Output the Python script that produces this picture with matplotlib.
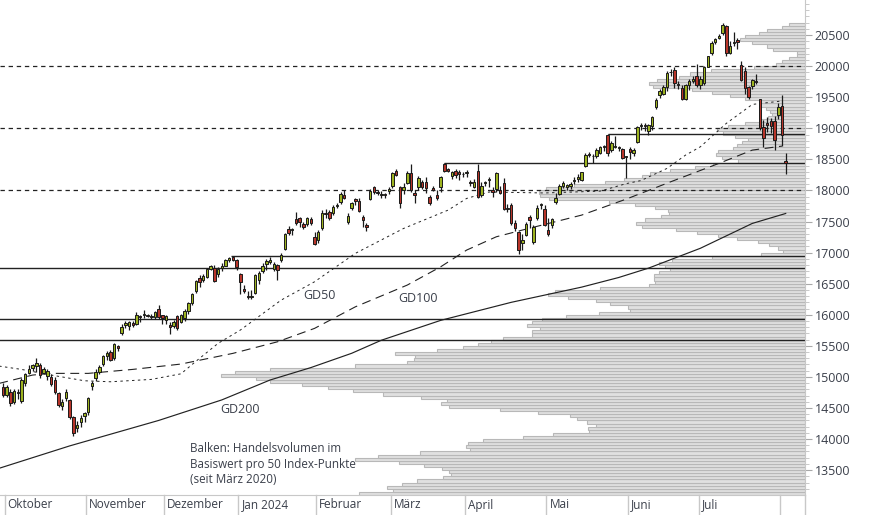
import numpy as np
import matplotlib.pyplot as plt
from matplotlib.transforms import blended_transform_factory

plt.rcParams['font.family'] = ['Open Sans', 'DejaVu Sans']

# Handelstage: Index 0 = 2. Oktober 2023, Index -1 = 29. September 2023
tage = np.arange(-1, 211)
monat_start = [0, 22, 43, 63, 84, 104, 124, 146, 168, 187, 209]
monat_namen = ['Oktober', 'November', 'Dezember', 'Jan 2024', 'Februar', 'März',
               'April', 'Mai', 'Juni', 'Juli', '']

# Kerzen (Sep 29 .. Aug 2), je Monat eine Zeile
kurs_open = [14840,
    14715, 14760, 14590, 14760, 14620, 14900, 15060, 15140, 15170, 15190, 15060, 15010, 15000, 14950, 14740, 14540, 14660, 14625, 14350, 14180, 14270, 14370,
    14430, 14850, 14980, 15080, 15200, 15330, 15400, 15300, 15500, 15700, 15830, 15820, 15870, 15850, 15980, 15990, 15990, 15970, 15970, 16090, 15990,
    15910, 15830, 15820, 15980, 15880, 15950, 16060, 16190, 16380, 16590, 16560, 16605, 16740, 16750, 16650, 16750, 16790, 16880, 16935, 16880,
    16655, 16420, 16300, 16290, 16350, 16560, 16700, 16820, 16850, 16740, 16800, 16880, 17060, 17380, 17360, 17540, 17560, 17460, 17460, 17540, 17250,
    17200, 17395, 17640, 17650, 17640, 17750, 17810, 17920, 17490, 17716, 17860, 17830, 17570, 17440, 17860, 18060, 17970, 17930, 17940, 17990,
    18070, 18310, 18050, 18000, 18120, 18280, 17960, 18050, 18130, 18130, 17900, 18040, 17930, 18050, 18420, 18340, 18240, 18320, 18300, 18270,
    18280, 18135, 18060, 18320, 17920, 18120, 18170, 18010, 18020, 18010, 18120, 17720, 17765, 17475, 17330, 17150, 17280, 17570, 17170, 17555, 17760, 17700,
    17360, 17450, 17810, 17950, 18080, 18060, 18080, 18160, 18190, 18165, 18400, 18590, 18560, 18550, 18600, 18700, 18890, 18650, 18700, 18700, 18660, 18540,
    18670, 18600, 18780, 19040, 19050, 18950, 19030, 19340, 19540, 19560, 19670, 19900, 19940, 19720, 19650, 19480, 19700, 19760, 19840,
    19700, 19730, 19990, 20210, 20390, 20460, 20530, 20645, 20220, 20380, 20420, 20015, 19920, 19660, 19680, 19760, 19470, 19020, 19090, 19110, 19115, 19210,
    19360, 18480]
kurs_close = [14715,
    14830, 14580, 14780, 14740, 14950, 15050, 15120, 15190, 15220, 15030, 15130, 15100, 14885, 14755, 14545, 14600, 14760, 14350, 14095, 14230, 14340, 14420,
    14660, 14900, 15080, 15160, 15330, 15380, 15280, 15530, 15470, 15810, 15860, 15880, 15840, 16000, 15960, 16010, 15985, 15980, 16040, 15960, 15950,
    15980, 15810, 15880, 15780, 15990, 16060, 16190, 16330, 16540, 16530, 16620, 16735, 16790, 16540, 16740, 16780, 16880, 16910, 16880, 16770,
    16530, 16380, 16280, 16300, 16640, 16680, 16790, 16860, 16880, 16810, 16720, 16960, 17300, 17310, 17380, 17475, 17500, 17420, 17555, 17470, 17140,
    17330, 17640, 17630, 17555, 17730, 17770, 17940, 17880, 17590, 17800, 17830, 17670, 17520, 17410, 17990, 17970, 17960, 17950, 17920, 18020,
    18280, 18250, 17800, 18050, 18280, 18000, 17920, 18200, 18060, 18040, 17800, 18010, 17880, 18215, 18310, 18320, 18290, 18250, 18270, 18260,
    18290, 18115, 18130, 17900, 18080, 18130, 18180, 17980, 18280, 17960, 17700, 17710, 17475, 17390, 17040, 17210, 17460, 17520, 17410, 17720, 17780, 17440,
    17300, 17540, 17880, 18080, 18120, 18090, 18110, 18160, 18220, 18290, 18570, 18570, 18550, 18650, 18700, 18710, 18600, 18760, 18710, 18680, 18520, 18540,
    18620, 18650, 19020, 19050, 19040, 19050, 19180, 19455, 19600, 19660, 19890, 19910, 19730, 19700, 19470, 19700, 19760, 19800, 19700,
    19800, 19985, 20160, 20370, 20430, 20480, 20660, 20210, 20320, 20390, 20390, 19775, 19650, 19500, 19770, 19740, 19000, 18840, 19060, 19040, 18810, 19340,
    18890, 18450]
kurs_high = [14900,
    14870, 14800, 14800, 14800, 14990, 15070, 15190, 15210, 15300, 15220, 15160, 15130, 15050, 15000, 14760, 14650, 14800, 14640, 14370, 14290, 14380, 14440,
    14680, 14930, 15120, 15190, 15360, 15420, 15440, 15550, 15520, 15850, 15900, 15900, 15900, 16040, 16000, 16070, 16020, 16010, 16060, 16150, 16000,
    16000, 15880, 15920, 16000, 16020, 16100, 16200, 16350, 16560, 16640, 16650, 16750, 16800, 16800, 16770, 16840, 16900, 16930, 16945, 16900,
    16680, 16480, 16390, 16400, 16660, 16700, 16830, 16900, 16930, 16850, 16810, 16990, 17320, 17430, 17400, 17660, 17580, 17500, 17580, 17580, 17330,
    17360, 17690, 17700, 17680, 17760, 17800, 17980, 18000, 17640, 17820, 17880, 17880, 17600, 17470, 18030, 18080, 18000, 17990, 17960, 18060,
    18300, 18340, 18080, 18120, 18320, 18420, 18000, 18230, 18170, 18220, 17920, 18080, 18000, 18230, 18440, 18360, 18310, 18340, 18330, 18300,
    18330, 18170, 18180, 18420, 18130, 18160, 18210, 18050, 18300, 18080, 18200, 17780, 17800, 17520, 17350, 17300, 17500, 17600, 17440, 17770, 17800, 17760,
    17560, 17560, 17960, 18100, 18150, 18110, 18130, 18220, 18260, 18300, 18600, 18620, 18580, 18690, 18720, 18730, 18905, 18800, 18870, 18720, 18690, 18560,
    18700, 18690, 19040, 19080, 19080, 19070, 19200, 19490, 19630, 19700, 19930, 19950, 19980, 19760, 19700, 19710, 19800, 19840, 20030,
    19850, 20000, 20170, 20400, 20450, 20520, 20690, 20660, 20400, 20550, 20450, 20080, 19980, 19680, 19800, 19870, 19480, 19130, 19180, 19160, 19200, 19400,
    19540, 18600]
kurs_low = [14680,
    14680, 14540, 14570, 14650, 14580, 14850, 15040, 15100, 15080, 14990, 15040, 14950, 14860, 14720, 14520, 14470, 14620, 14330, 14050, 14120, 14200, 14280,
    14390, 14790, 14940, 15040, 15170, 15280, 15260, 15270, 15420, 15680, 15780, 15760, 15800, 15830, 15880, 15950, 15960, 15940, 15930, 15940, 15850,
    15850, 15690, 15780, 15760, 15860, 15900, 16020, 16150, 16350, 16450, 16530, 16590, 16720, 16530, 16600, 16700, 16780, 16850, 16860, 16720,
    16330, 16350, 16260, 16250, 16330, 16500, 16680, 16720, 16820, 16700, 16560, 16850, 17040, 17290, 17290, 17450, 17420, 17380, 17430, 17440, 17130,
    17150, 17360, 17560, 17530, 17610, 17720, 17790, 17860, 17460, 17690, 17770, 17650, 17420, 17350, 17840, 17940, 17930, 17880, 17880, 17950,
    18040, 18230, 17720, 17940, 18100, 17980, 17800, 18000, 18030, 17960, 17760, 17990, 17850, 17980, 18290, 18290, 18180, 18200, 18170, 18220,
    18220, 18080, 18040, 17880, 17900, 18080, 18050, 17900, 17970, 17940, 17680, 17650, 17450, 17350, 16970, 17040, 17260, 17400, 17140, 17530, 17700, 17430,
    17260, 17400, 17790, 17930, 18040, 18000, 18030, 18100, 18140, 18150, 18380, 18540, 18450, 18530, 18580, 18640, 18560, 18620, 18690, 18640, 18500, 18200,
    18500, 18560, 18760, 18980, 18960, 18900, 18970, 19310, 19490, 19530, 19600, 19850, 19650, 19640, 19460, 19450, 19620, 19730, 19670,
    19630, 19700, 19980, 20180, 20350, 20430, 20500, 20170, 20190, 20320, 20280, 19760, 19560, 19470, 19630, 19720, 18980, 18700, 18940, 18920, 18650, 19150,
    18720, 18270]

gd50_tage = [-2, 4, 12, 21, 28, 39, 47, 51, 57, 63, 74, 83, 94, 107, 119, 124, 130, 145, 160, 167, 171, 178, 183, 187, 194, 201, 209]
gd50_werte = [15174, 15121, 15030, 14938, 14922, 14960, 15050, 15250, 15540, 15754, 16236, 16531, 16988, 17389, 17684, 17872, 17975,
              17960, 17990, 18110, 18160, 18355, 18569, 18703, 19080, 19385, 19440]
gd100_tage = [-2, 7, 12, 22, 34, 47, 61, 73, 83, 94, 108, 117, 124, 132, 139, 155, 167, 179, 192, 201, 209]
gd100_werte = [14896, 15030, 15057, 15057, 15121, 15207, 15379, 15565, 15781, 16128, 16478, 16772, 17041, 17255, 17363, 17604,
               17861, 18140, 18436, 18650, 18714]
gd200_tage = [-2, 17, 41, 58, 71, 82, 93, 101, 109, 117, 136, 155, 165, 173, 187, 201, 210]
gd200_werte = [13530, 13890, 14300, 14630, 14950, 15150, 15380, 15590, 15750, 15910, 16200, 16445, 16600, 16750, 17070, 17470, 17630]

# Handelsvolumen pro 50 Index-Punkte, ab 13100 aufwärts (relative Einheiten)
volumen = [446, 412, 418, 403, 388, 362, 354, 356, 363, 381,
           406, 450, 427, 385, 335, 339, 337, 322, 282, 252,
           216, 217, 209, 218, 228, 235, 267, 305, 356, 364,
           358, 384, 422, 452, 477, 503, 535, 549, 584, 570,
           535, 450, 398, 391, 390, 410, 368, 342, 327, 314,
           302, 273, 273, 265, 278, 273, 263, 239, 206, 175,
           177, 195, 209, 237, 257, 250, 205, 156, 150, 151,
           151, 146, 135, 140, 146, 133, 93, 44, 22, 27,
           36, 47, 68, 87, 108, 129, 163, 169, 160, 144,
           136, 137, 150, 170, 196, 256, 265, 266, 259, 231,
           200, 181, 163, 155, 135, 110, 92, 67, 83, 89,
           87, 72, 68, 63, 57, 70, 82, 88, 77, 60,
           45, 37, 33, 35, 39, 45, 45, 60, 75, 93,
           113, 152, 156, 148, 126, 115, 94, 51, 29, 23,
           16, 8, 8, 32, 38, 53, 65, 60, 46, 38, 23, 16]
volumen_unten = 13100

# Marken (Linien)
linien_gepunktet = [20000, 19000, 18000]
linien_voll = [16758, 15924, 15597]
linien_ab_tag = [(16945, 60.5), (18440, 118), (18905, 162)]

# =================================================================
x_min, x_max = -1.78, 215.2
y_min, y_max = 13100, 21065
textfarbe = '#3a3f4a'

fig = plt.figure(figsize=(8.74, 5.15), dpi=100)
ax = fig.add_axes([0, 20 / 515, 805 / 874, 495 / 515])

# Volumenprofil
vol = np.array(volumen)
stufen = volumen_unten + 50 * np.arange(len(vol))
px_pro_tag = 3.71
breite = vol / px_pro_tag
ax.barh(stufen + 25, breite, left=x_max - breite, height=50, color='#e0e0e0',
        edgecolor='#b8b8b8', linewidth=0.8, zorder=1)

# horizontale Linien
for y in linien_gepunktet:
    ax.axhline(y, color='#222222', lw=0.9, linestyle=(0, (3.5, 3)), zorder=2)
for y in linien_voll:
    ax.axhline(y, color='#222222', lw=1.0, zorder=2)
for y, tag in linien_ab_tag:
    ax.hlines(y, tag, x_max, color='#222222', lw=1.0, zorder=2)

# gleitende Durchschnitte
ax.plot(gd50_tage, gd50_werte, color='#222222', lw=0.7, linestyle=(0, (2.5, 3.5)), zorder=3)
ax.plot(gd100_tage, gd100_werte, color='#222222', lw=0.8, linestyle=(0, (8, 5)), zorder=3)
ax.plot(gd200_tage, gd200_werte, color='#222222', lw=0.85, zorder=3)

# Kerzen
o = np.array(kurs_open)
c = np.array(kurs_close)
h = np.array(kurs_high)
l = np.array(kurs_low)
ax.vlines(tage, l, h, color='#1a1a1a', lw=0.9, zorder=4)
steigend = c >= o
koerper = c - o
koerper = np.where(np.abs(koerper) < 12, np.where(steigend, 12, -12), koerper)
farben = np.where(steigend, '#9db320', '#b8352a')
ax.bar(tage, koerper, bottom=o, width=0.66, color=farben, edgecolor='#1a1a1a',
       linewidth=0.7, zorder=5)

# Beschriftungen im Chart
ax.text(79.9, 16317, 'GD50', fontsize=9, color=textfarbe, va='center', ha='left', zorder=6)
ax.text(105.5, 16268, 'GD100', fontsize=9, color=textfarbe, va='center', ha='left', zorder=6)
ax.text(57.5, 14482, 'GD200', fontsize=9, color=textfarbe, va='center', ha='left', zorder=6)
ax.text(49.4, 13945, 'Balken: Handelsvolumen im\nBasiswert pro 50 Index-Punkte\n(seit März 2020)',
        fontsize=8.4, color=textfarbe, va='top', ha='left', linespacing=1.22, zorder=6)

ax.set_xlim(x_min, x_max)
ax.set_ylim(y_min, y_max)

# Achsen
for s in ['top', 'left']:
    ax.spines[s].set_visible(False)
ax.spines['right'].set_color('#c8c8c8')
ax.spines['bottom'].set_color('#c8c8c8')
ax.yaxis.tick_right()
ax.set_yticks(np.arange(13500, 20501, 500))
ax.set_yticks(np.arange(13200, 21001, 100), minor=True)
ax.tick_params(axis='y', which='major', length=5, color='#a8a8a8', labelsize=9,
               labelcolor=textfarbe, pad=2)
ax.tick_params(axis='y', which='minor', length=3, color='#c0c0c0')
ax.set_xticks([])

# Monatsleiste
trans = blended_transform_factory(ax.transData, ax.transAxes)
band = -20 / 495
for start, name in zip(monat_start, monat_namen):
    ax.plot([start - 0.5, start - 0.5], [band, 0], transform=trans, color='#c8c8c8',
            lw=1, clip_on=False)
    ax.text(start - 0.5 + 0.8, band / 2, name, transform=trans, fontsize=8.5,
            color=textfarbe, va='center', ha='left')
ax.plot([1, 1], [band, 0], transform=ax.transAxes, color='#c8c8c8', lw=1, clip_on=False)

fig.savefig('out.png', dpi=100)
